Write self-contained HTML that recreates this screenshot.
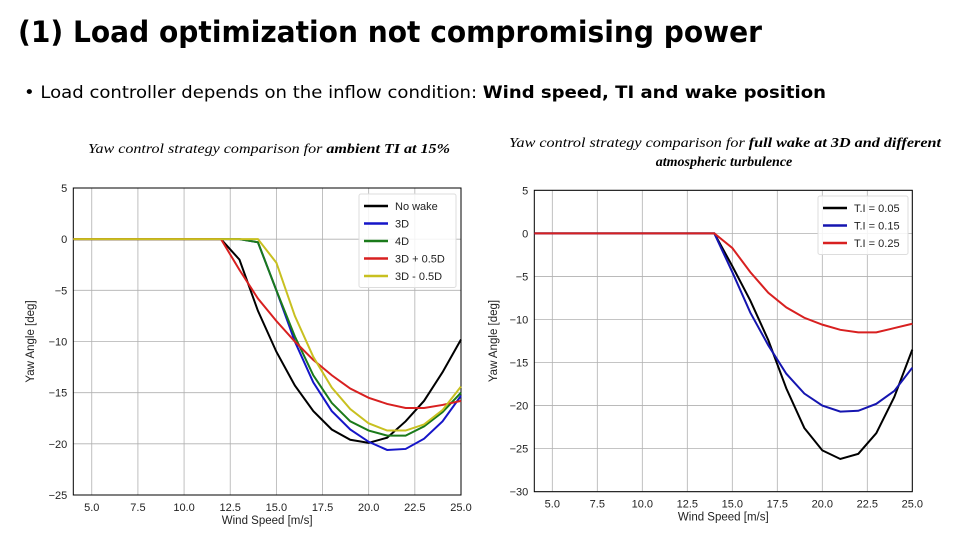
<!DOCTYPE html>
<html><head><meta charset="utf-8"><style>
html,body{margin:0;padding:0;background:#fff;}
svg{display:block;font-family:"Liberation Sans","DejaVu Sans",sans-serif;}
</style></head><body>
<svg id="s" width="960" height="540" viewBox="0 0 960 540">
<text x="18" y="42" font-size="29" font-weight="bold" font-family="DejaVu Sans, sans-serif" textLength="744" lengthAdjust="spacingAndGlyphs">(1) Load optimization not compromising power</text>
<text x="24" y="98" font-size="17" font-family="DejaVu Sans, sans-serif" textLength="802" lengthAdjust="spacingAndGlyphs">• Load controller depends on the inflow condition: <tspan font-weight="bold">Wind speed, TI and wake position</tspan></text>
<text x="88" y="153" font-size="14" font-style="italic" font-family="Liberation Serif, serif" textLength="362" lengthAdjust="spacingAndGlyphs">Yaw control strategy comparison for <tspan font-weight="bold">ambient TI at 15%</tspan></text>
<text x="509" y="147" font-size="14" font-style="italic" font-family="Liberation Serif, serif" textLength="432" lengthAdjust="spacingAndGlyphs">Yaw control strategy comparison for <tspan font-weight="bold">full wake at 3D and different</tspan></text>
<text x="724" y="166" font-size="14" font-style="italic" font-weight="bold" text-anchor="middle" font-family="Liberation Serif, serif">atmospheric turbulence</text>
<g id="left"></g>
<g id="right"></g>
</svg>
<script>
const speeds=[4,5,6,7,8,9,10,11,12,13,14,15,16,17,18,19,20,21,22,23,24,25];
const noWake=[0,0,0,0,0,0,0,0,0,-2,-7,-11,-14.3,-16.8,-18.6,-19.6,-19.9,-19.4,-17.8,-15.8,-13,-9.8];
const wake3D=[0,0,0,0,0,0,0,0,0,0,-0.3,-5,-10,-14,-16.8,-18.6,-19.8,-20.6,-20.5,-19.5,-17.8,-15.3];
const wake4D=[0,0,0,0,0,0,0,0,0,0,-0.3,-5,-9.5,-13.3,-16,-17.8,-18.7,-19.2,-19.2,-18.3,-16.9,-15];
const wake3Dplus=[0,0,0,0,0,0,0,0,0,-3,-5.8,-8,-10,-11.8,-13.3,-14.6,-15.5,-16.1,-16.5,-16.5,-16.2,-15.8];
const wake3Dminus=[0,0,0,0,0,0,0,0,0,0,0,-2.3,-7.5,-11.5,-14.5,-16.6,-18,-18.7,-18.7,-18.1,-16.7,-14.4];
const ti005=[0,0,0,0,0,0,0,0,0,0,0,-3.8,-7.8,-12.4,-18,-22.6,-25.2,-26.2,-25.6,-23.2,-19,-13.5];
const ti015=[0,0,0,0,0,0,0,0,0,0,0,-4.5,-9.2,-13,-16.3,-18.6,-20,-20.7,-20.6,-19.8,-18.3,-15.6];
const ti025=[0,0,0,0,0,0,0,0,0,0,0,-1.7,-4.5,-6.9,-8.6,-9.8,-10.6,-11.2,-11.5,-11.5,-11,-10.5];
const xTicks=[5,7.5,10,12.5,15,17.5,20,22.5,25];
const yTicksLeft=[5,0,-5,-10,-15,-20,-25];
const yTicksRight=[5,0,-5,-10,-15,-20,-25,-30];
const leftNames=["No wake","3D","4D","3D + 0.5D","3D - 0.5D"];
const rightNames=["T.I = 0.05","T.I = 0.15","T.I = 0.25"];
const NS="http://www.w3.org/2000/svg";
function mk(p,t,a){const e=document.createElementNS(NS,t);for(const k in a)e.setAttribute(k,a[k]);p.appendChild(e);return e;}
function chart(g,o){
  const X=v=>o.x0+(v-4)/(25-4)*(o.x1-o.x0);
  const Y=v=>o.y0+(o.ymax-v)/(o.ymax-o.ymin)*(o.y1-o.y0);
  xTicks.forEach(t=>{
    const l=mk(g,'line',{x1:X(t),x2:X(t),y1:o.y0,y2:o.y1,stroke:'#b0b0b0','stroke-width':0.8});
    
    
    const tx=mk(g,'text',{x:X(t),y:o.y1+16,'font-size':11,'text-anchor':'middle',fill:'#222'});
    tx.textContent=t.toFixed(1);
    
    
  });
  o.yt.forEach(t=>{
    const l=mk(g,'line',{x1:o.x0,x2:o.x1,y1:Y(t),y2:Y(t),stroke:'#b0b0b0','stroke-width':0.8});
    
    
    const tx=mk(g,'text',{x:o.x0-6,y:Y(t)+4,'font-size':11,'text-anchor':'end',fill:'#222'});
    tx.textContent=t<0?'\u2212'+(-t):String(t);
    
    
  });
  const fr=mk(g,'rect',{x:o.x0,y:o.y0,width:o.x1-o.x0,height:o.y1-o.y0,fill:'none',stroke:'#000','stroke-width':1});
  
  
  o.series.forEach((s,i)=>{
    const p=mk(g,'polyline',{points:speeds.map((v,j)=>X(v)+','+Y(s[j])).join(' '),fill:'none',stroke:o.colors[i],'stroke-width':2});
    
    
  });
  const xl=mk(g,'text',{x:(o.x0+o.x1)/2,y:o.y1+29,'font-size':11.5,'text-anchor':'middle',fill:'#222'});
  xl.textContent='Wind Speed [m/s]';
  
  
  const cy=(o.y0+o.y1)/2;
  const yl=mk(g,'text',{x:o.ylx,y:cy,'font-size':11.5,'text-anchor':'middle',fill:'#222',transform:`rotate(-90 ${o.ylx} ${cy})`});
  yl.textContent='Yaw Angle [deg]';
  
  
  const lg=mk(g,'g',{});
  
  
  const lb=mk(lg,'rect',{x:o.lx,y:o.ly,width:o.lw,height:o.names.length*17.5+6,fill:'#fff','fill-opacity':0.85,stroke:'#ddd',rx:2});
  
  
  o.names.forEach((n,i)=>{
    const yy=o.ly+12+i*17.5;
    const ll=mk(lg,'line',{x1:o.lx+5,x2:o.lx+29,y1:yy,y2:yy,stroke:o.colors[i],'stroke-width':2.5});
    
    
    const lt=mk(lg,'text',{x:o.lx+36,y:yy+4,'font-size':11,fill:'#222'});
    lt.textContent=n;
    
    
  });
}
chart(document.getElementById('left'),{x0:73.3,x1:461,y0:188,y1:495,ymax:5,ymin:-25,yt:yTicksLeft,ylx:34,
  series:[noWake,wake3D,wake4D,wake3Dplus,wake3Dminus],colors:['#000','#1515c8','#1a7a1a','#d82020','#c8c020'],
  names:leftNames,lx:359,ly:194,lw:97});
chart(document.getElementById('right'),{x0:534.3,x1:912.3,y0:190.3,y1:491.7,ymax:5,ymin:-30,yt:yTicksRight,ylx:497,
  series:[ti005,ti015,ti025],colors:['#000','#1515b0','#d82020'],
  names:rightNames,lx:818,ly:196,lw:90});
</script>
</body></html>
